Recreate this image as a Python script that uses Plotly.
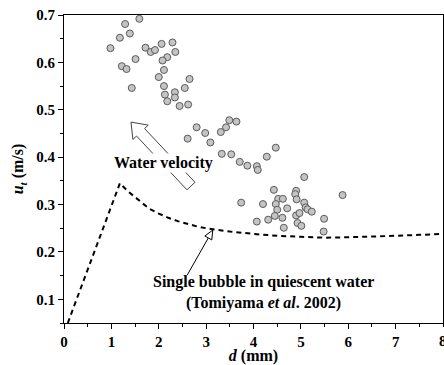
import math
import plotly.graph_objects as go

# ---------------- data ----------------
bubble_d = [0.98, 1.18, 1.29, 1.39, 1.59, 1.22, 1.32, 1.51, 1.43, 1.72, 1.83, 1.92,
            2.06, 2.29, 2.35, 2.18, 2.08, 2.11, 2.00, 2.11, 2.13, 2.34, 2.34, 2.18,
            2.44, 2.62, 2.55, 2.65, 2.61, 2.80, 2.98, 3.09, 3.31, 3.42, 3.49, 3.64,
            3.33, 3.53, 3.71, 3.87, 4.07, 4.09, 4.28, 4.47, 5.07, 5.88, 4.43, 4.90,
            4.88, 3.74, 4.20, 4.52, 4.62, 4.47, 4.50, 4.71, 4.91, 5.07, 5.10, 5.14,
            5.23, 4.45, 4.61, 4.90, 4.97, 5.49, 4.07, 4.31, 4.64, 4.93, 5.01, 5.48]
bubble_u = [0.630, 0.652, 0.681, 0.661, 0.692, 0.592, 0.586, 0.607, 0.546, 0.631, 0.622, 0.626,
            0.639, 0.642, 0.622, 0.611, 0.604, 0.584, 0.569, 0.550, 0.532, 0.537, 0.526, 0.518,
            0.508, 0.511, 0.546, 0.565, 0.439, 0.463, 0.451, 0.431, 0.453, 0.463, 0.478, 0.475,
            0.407, 0.406, 0.390, 0.382, 0.381, 0.373, 0.401, 0.420, 0.358, 0.320, 0.331, 0.329,
            0.322, 0.304, 0.301, 0.312, 0.312, 0.301, 0.289, 0.292, 0.311, 0.304, 0.294, 0.290,
            0.285, 0.276, 0.272, 0.277, 0.282, 0.270, 0.264, 0.268, 0.251, 0.261, 0.255, 0.243]

tomiyama_d = [0.08, 1.18, 1.35, 1.5, 1.65, 1.8, 2.0, 2.2, 2.4, 2.6, 2.8, 3.0, 3.25, 3.5,
              4.0, 4.5, 5.0, 5.5, 6.0, 6.5, 7.0, 7.5, 8.0]
tomiyama_u = [0.05, 0.345, 0.328, 0.315, 0.302, 0.291, 0.281, 0.272, 0.265, 0.259, 0.254,
              0.250, 0.246, 0.243, 0.238, 0.234, 0.232, 0.230, 0.231, 0.232, 0.234, 0.236, 0.238]

x_ticks = [0, 1, 2, 3, 4, 5, 6, 7, 8]
y_ticks = [0.1, 0.2, 0.3, 0.4, 0.5, 0.6, 0.7]

# annotation anchors (data coords)
water_arrow_tail = (2.68, 0.339)
water_arrow_tip = (1.414, 0.474)
single_arrow_tail = (2.60, 0.151)
single_arrow_tip = (3.14, 0.246)

# ---------------- layout ----------------
W, H = 444, 365
ML, MR, MT, MB = 64, 1, 15, 42
XR = (0, 8)
YR = (0.05, 0.7)
PW, PH = W - ML - MR, H - MT - MB
FONT = "Liberation Serif, Times New Roman, serif"


def to_px(d, u):
    return (ML + (d - XR[0]) / (XR[1] - XR[0]) * PW,
            MT + (YR[1] - u) / (YR[1] - YR[0]) * PH)


def to_data(px, py):
    return (XR[0] + (px - ML) / PW * (XR[1] - XR[0]),
            YR[1] - (py - MT) / PH * (YR[1] - YR[0]))


def path_from_px(points, close=True):
    s = ""
    for i, (px, py) in enumerate(points):
        d, u = to_data(px, py)
        s += ("M" if i == 0 else "L") + f"{d:.5f},{u:.5f} "
    if close:
        s += "Z"
    return s


def block_arrow(tail, tip, half_shaft, half_head, head_len):
    tx, ty = to_px(*tail)
    px, py = to_px(*tip)
    L = math.hypot(px - tx, py - ty)
    vx, vy = (px - tx) / L, (py - ty) / L
    nx, ny = -vy, vx
    neckx, necky = px - vx * head_len, py - vy * head_len
    pts = [
        (tx + nx * half_shaft, ty + ny * half_shaft),
        (neckx + nx * half_shaft, necky + ny * half_shaft),
        (neckx + nx * half_head, necky + ny * half_head),
        (px, py),
        (neckx - nx * half_head, necky - ny * half_head),
        (neckx - nx * half_shaft, necky - ny * half_shaft),
        (tx - nx * half_shaft, ty - ny * half_shaft),
    ]
    return path_from_px(pts)


def line_arrow(tail, tip, half_head, head_len):
    tx, ty = to_px(*tail)
    px, py = to_px(*tip)
    L = math.hypot(px - tx, py - ty)
    vx, vy = (px - tx) / L, (py - ty) / L
    nx, ny = -vy, vx
    neckx, necky = px - vx * head_len, py - vy * head_len
    shaft = path_from_px([(tx, ty), (neckx, necky)], close=False)
    head = path_from_px([(neckx + nx * half_head, necky + ny * half_head), (px, py),
                         (neckx - nx * half_head, necky - ny * half_head)])
    return shaft, head


fig = go.Figure()

fig.add_trace(go.Scatter(
    x=tomiyama_d, y=tomiyama_u, mode="lines",
    line=dict(color="black", width=2, dash="5px,4px"),
    showlegend=False, hoverinfo="skip"))

fig.add_trace(go.Scatter(
    x=bubble_d, y=bubble_u, mode="markers",
    marker=dict(size=7, color="#c4c4c4", line=dict(color="#5a5a5a", width=1)),
    showlegend=False))

shapes = []
shapes.append(dict(type="path", path=block_arrow(water_arrow_tail, water_arrow_tip, 5.5, 10.5, 14),
                   xref="x", yref="y", line=dict(color="#444", width=1), fillcolor="white"))
sh, hd = line_arrow(single_arrow_tail, single_arrow_tip, 4, 9)
shapes.append(dict(type="path", path=sh, xref="x", yref="y", line=dict(color="black", width=1)))
shapes.append(dict(type="path", path=hd, xref="x", yref="y", line=dict(color="black", width=1),
                   fillcolor="white"))

ann_font = dict(family=FONT, size=16, color="black")
tick_font = dict(family=FONT, size=15, color="black")
annotations = [
    dict(x=2.09, y=0.388, xref="x", yref="y", text="<b>Water velocity</b>", showarrow=False,
         font=ann_font, bgcolor="white", borderpad=0),
    dict(x=4.22, y=0.137, xref="x", yref="y", text="<b>Single bubble in quiescent water</b>",
         showarrow=False, font=ann_font),
    dict(x=4.22, y=0.092, xref="x", yref="y", text="<b>(Tomiyama <i>et al</i>. 2002)</b>",
         showarrow=False, font=ann_font),
    # last x tick label, clipped by the page edge as in the original
    dict(x=x_ticks[-1], y=0, xref="x", yref="paper", yanchor="top", yshift=-8,
         text=f"<b>{x_ticks[-1]}</b>", showarrow=False, font=tick_font),
]

axis_common = dict(
    showline=True, linecolor="black", linewidth=1, mirror=True,
    showgrid=False, zeroline=False,
    ticks="outside", ticklen=5, tickwidth=1, tickcolor="black",
    tickfont=tick_font,
)

fig.update_layout(
    width=W, height=H, margin=dict(l=ML, r=MR, t=MT, b=MB),
    paper_bgcolor="white", plot_bgcolor="white",
    shapes=shapes, annotations=annotations,
    xaxis=dict(range=list(XR), tickvals=x_ticks[:-1], ticktext=[f"<b>{v}</b>" for v in x_ticks[:-1]],
               minor=dict(dtick=0.5, ticks="outside", ticklen=3, tickcolor="black"),
               title=dict(text="<b><i>d</i> (mm)</b>", font=dict(family=FONT, size=16, color="black"),
                          standoff=3),
               **axis_common),
    yaxis=dict(range=list(YR), tickvals=y_ticks, ticktext=[f"<b>{v}</b>" for v in y_ticks],
               minor=dict(tick0=0.05, dtick=0.05, ticks="outside", ticklen=3, tickcolor="black"),
               title=dict(text="<b><i>u</i><sub><i>t</i></sub> (m/s)</b>",
                          font=dict(family=FONT, size=16, color="black"), standoff=8),
               **axis_common),
)

fig.write_html("out.html")
